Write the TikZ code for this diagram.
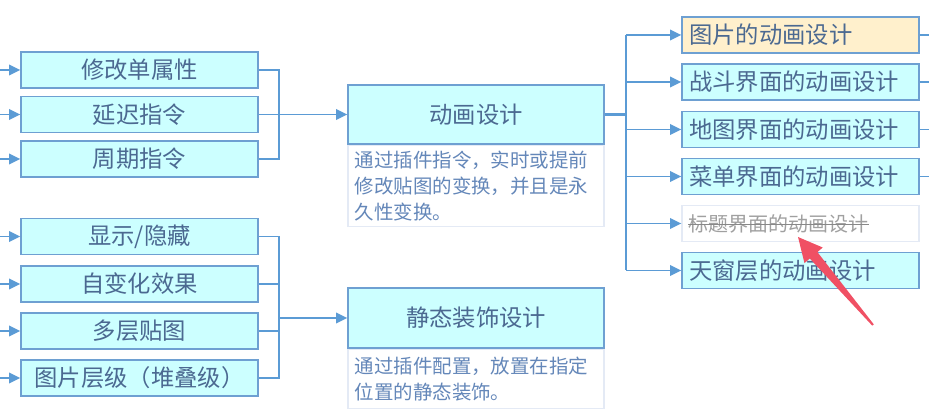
\documentclass[tikz,border=0pt]{standalone}
\usepackage{fontspec}
\setmainfont{Noto Sans CJK SC}
\usetikzlibrary{arrows.meta}
\definecolor{boxfill}{RGB}{204,255,255}
\definecolor{boxline}{RGB}{110,160,210}
\definecolor{conn}{RGB}{91,155,213}
\definecolor{labtxt}{RGB}{75,105,145}
\definecolor{notetxt}{RGB}{100,135,185}
\definecolor{noteline}{RGB}{228,234,245}
\definecolor{hifill}{RGB}{255,240,204}
\definecolor{graytxt}{RGB}{160,160,160}
\definecolor{redarrow}{RGB}{240,80,100}
\tikzset{
  lbox/.style={draw=boxline, line width=1pt, fill=boxfill, minimum width=177.75pt, minimum height=27pt,
    inner sep=0pt, text=labtxt, font=\fontsize{17.5}{20}\selectfont},
  rbox/.style={draw=boxline, line width=1pt, fill=boxfill, text width=167.25pt, inner xsep=5.25pt, inner ysep=0pt,
    minimum height=27pt, align=left, text=labtxt, font=\fontsize{17.5}{20}\selectfont},
  mbox/.style={draw=boxline, line width=1pt, fill=boxfill, minimum width=192pt, inner sep=0pt,
    text=labtxt, font=\fontsize{17.5}{20}\selectfont},
  notebox/.style={draw=noteline, line width=0.8pt, fill=white, text width=182pt, inner xsep=5pt, inner ysep=0pt,
    align=left, text=notetxt, font=\fontsize{14.6}{19.5}\selectfont, anchor=north},
  wire/.style={draw=conn, line width=1.3pt},
  arr/.style={wire, -{Triangle[length=8.5pt,width=8pt]}},
}
\begin{document}
\begin{tikzpicture}[x=0.75pt,y=-0.75pt]
\useasboundingbox (0,0) rectangle (929,420);
% left upper group
\node[lbox] (a1) at (139.5,70) {修改单属性};
\node[lbox] (a2) at (139.5,114.5) {延迟指令};
\node[lbox] (a3) at (139.5,159) {周期指令};
% left lower group
\node[lbox] (b1) at (139.5,236.5) {显示/隐藏};
\node[lbox] (b2) at (139.5,284) {自变化效果};
\node[lbox] (b3) at (139.5,331) {多层贴图};
\node[lbox] (b4) at (139.5,378) {图片层级（堆叠级）};
% middle
\node[mbox, minimum height=44.25pt] (m1) at (476,114.5) {动画设计};
\node[notebox, minimum height=60.75pt] (n1) at (m1.south) {通过插件指令，实时或提前\\修改贴图的变换，并且是永\\久性变换。};
\node[mbox, minimum height=45pt] (m2) at (476,318) {静态装饰设计};
\node[notebox, minimum height=44.25pt] (n2) at (m2.south) {通过插件配置，放置在指定\\位置的静态装饰。};
% right
\node[rbox, fill=hifill] (r1) at (800.5,35) {图片的动画设计};
\node[rbox] (r2) at (800.5,82) {战斗界面的动画设计};
\node[rbox] (r3) at (800.5,129.5) {地图界面的动画设计};
\node[rbox] (r4) at (800.5,176.5) {菜单界面的动画设计};
\node[rbox, draw=noteline, fill=white, text=graytxt, font=\fontsize{15}{18}\selectfont] (r5) at (800.5,223.5) {};
\node[anchor=west, inner sep=0pt, text=graytxt, font=\fontsize{15}{18}\selectfont] (r5t) at (688,223.5) {标题界面的动画设计};
\draw[draw=graytxt!85!black, line width=0.8pt] ([yshift=-1pt]r5t.west) -- ([yshift=-1pt]r5t.east);
\node[rbox] (r6) at (800.5,270.5) {天窗层的动画设计};
% incoming stubs on the left
\foreach \n in {a1,a2,a3,b1,b2,b3,b4}{
  \draw[arr] ([xshift=-16pt]\n.west) -- (\n.west);
}
% upper bracket
\coordinate (j1) at (279,114.5);
\draw[wire] (a1.east) -| (j1);
\draw[wire] (a3.east) -| (j1);
\draw[wire] (a2.east) -- (j1);
\draw[arr] (j1) -- (m1.west);
% lower bracket
\coordinate (j2) at (279,318);
\draw[wire] (b1.east) -| (j2);
\draw[wire] (b4.east) -| (j2);
\draw[wire] (b2.east) -- (b2.east -| j2);
\draw[wire] (b3.east) -- (b3.east -| j2);
\draw[arr] (j2) -- (m2.west);
% right tree
\coordinate (j3) at (626,114.5);
\draw[wire, line width=1.8pt] (m1.east) -- (j3);
\draw[wire] (j3 |- r1.west) -- (j3 |- r6.west);
\foreach \n in {r1,r2,r3,r4,r5,r6}{
  \draw[arr] (j3 |- \n.west) -- (\n.west);
}
% outgoing stubs on the right
\foreach \n in {r1,r2,r3,r4}{
  \draw[wire] (\n.east) -- ++(12,0);
}
% red annotation arrow
\fill[redarrow] (798,237) -- (822.7,247.5) -- (817.4,252.1) -- (873.8,324.4) -- (872.2,325.6)
  -- (809.8,258.5) -- (804.5,263.1) -- cycle;
\end{tikzpicture}
\end{document}
